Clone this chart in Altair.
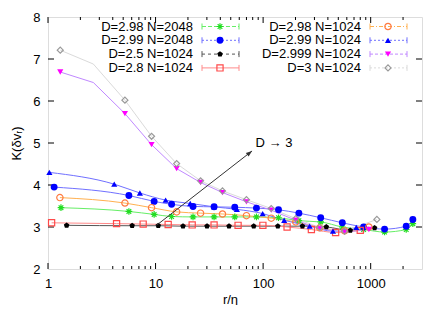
import altair as alt
import pandas as pd
import math

# ---------------- data ----------------
labels = ["D=2.98 N=2048", "D=2.99 N=2048", "D=2.5 N=1024", "D=2.8 N=1024",
          "D=2.98 N=1024", "D=2.99 N=1024", "D=2.999 N=1024", "D=3 N=1024"]

green_x = [1.32, 5.65, 9.7, 14.1, 22.3, 35, 54.5, 86.7, 139, 215, 343, 545, 860, 1346, 2140, 2466]
green_y = [3.46, 3.37, 3.30, 3.25, 3.24, 3.24, 3.24, 3.24, 3.22, 3.15, 3.12, 3.00, 2.94, 2.88, 2.94, 3.08]

bluec_x = [1.14, 5.65, 9.7, 14.1, 22.3, 35, 54.5, 86.7, 139, 215, 343, 545, 860, 1346, 2140, 2466]
bluec_y = [3.95, 3.75, 3.61, 3.54, 3.49, 3.48, 3.47, 3.45, 3.41, 3.33, 3.22, 3.10, 3.00, 2.95, 3.02, 3.18]

black_x = [1.49, 6.06, 10.6, 18.0, 30.1, 48.2, 81.8, 137, 232, 387, 646, 1087]
black_y = [3.04, 3.03, 3.03, 3.02, 3.02, 3.02, 3.02, 3.02, 3.02, 3.00, 2.92, 2.98]

red_x = [1.08, 4.34, 7.67, 13.1, 21.9, 35, 58.5, 99.5, 167, 281, 472, 800]
red_y = [3.10, 3.08, 3.07, 3.06, 3.05, 3.05, 3.04, 3.04, 3.00, 2.94, 2.87, 2.92]

orange_x = [1.29, 5.19, 9.18, 15.7, 26.2, 41.9, 70, 119, 201, 336, 572, 962]
orange_y = [3.70, 3.57, 3.46, 3.36, 3.33, 3.31, 3.27, 3.21, 3.12, 2.98, 2.91, 3.00]

bluet_x = [1.03, 4.13, 7.15, 12.4, 21, 35, 57, 99, 157, 271, 446, 735]
bluet_y = [4.30, 4.02, 3.81, 3.64, 3.56, 3.48, 3.42, 3.32, 3.16, 3.02, 2.90, 2.99]

mag_x = [1.3, 5.19, 9.18, 15.7, 26.2, 41.9, 70, 119, 201, 336, 572, 962]
mag_y = [6.69, 5.70, 4.96, 4.39, 4.06, 3.82, 3.60, 3.40, 3.16, 2.96, 2.88, 2.94]
mag_extra = [(2.64, 6.44)]          # line vertex without a marker

gray_x = [1.3, 5.19, 9.18, 15.7, 26.2, 41.9, 70, 119, 201, 336, 572, 1142]
gray_y = [7.21, 6.02, 5.16, 4.51, 4.10, 3.86, 3.65, 3.44, 3.20, 2.99, 2.90, 3.18]
gray_extra = [(2.64, 6.88)]

x_major = [1, 10, 100, 1000]
x_minor = [2, 3, 4, 5, 6, 7, 8, 9, 20, 30, 40, 50, 60, 70, 80, 90,
           200, 300, 400, 500, 600, 700, 800, 900, 2000]
y_ticks = [3, 4, 5, 6, 7]
y_labels = [2, 3, 4, 5, 6, 7, 8]

arrow_from = (10.2, 3.04)
arrow_to = (78.9, 4.81)
arrow_text = "D \u2192 3"
arrow_text_pos = (85, 4.99)

# ---------------- styling ----------------
W, H = 374, 252
FONT = "Liberation Sans"
XMIN, XMAX, YMIN, YMAX = 1, 3000, 2, 8

asterisk = "M-1,0L1,0M0,-1L0,1M-0.7,-0.7L0.7,0.7M-0.7,0.7L0.7,-0.7"
pentagon = "M0,-1L0.951,-0.309L0.588,0.809L-0.588,0.809L-0.951,-0.309Z"
arrowhead = "M0,0L-0.38,1L0.38,1Z"

series = [
    # label, xs, ys, extra, marker color, line color, shape, filled, size, dash, interp
    (labels[0], green_x, green_y, [], "#22dd22", "#66ee66", asterisk, False, 44, [4, 2], "monotone"),
    (labels[1], bluec_x, bluec_y, [], "#0000ff", "#7070ff", "circle", True, 48, [2, 2], "monotone"),
    (labels[2], black_x, black_y, [], "#000000", "#555555", pentagon, True, 34, [3, 3], "monotone"),
    (labels[3], red_x, red_y, [], "#ff4a4a", "#ff8a8a", "square", False, 38, [1, 0], "monotone"),
    (labels[4], orange_x, orange_y, [], "#ff7a40", "#ffb050", "circle", False, 40, [4, 2, 1, 2], "monotone"),
    (labels[5], bluet_x, bluet_y, [], "#0000ff", "#7070ff", "triangle-up", True, 38, [2, 2], "monotone"),
    (labels[6], mag_x, mag_y, mag_extra, "#ff00ff", "#c088ff", "triangle-down", True, 38, [3, 2], "linear"),
    (labels[7], gray_x, gray_y, gray_extra, "#9a9a9a", "#dadada", "diamond", False, 36, [2, 2], "linear"),
]

xscale = alt.Scale(type="log", domain=[XMIN, XMAX], nice=False)
yscale = alt.Scale(domain=[YMIN, YMAX], nice=False, zero=False)

xaxis = alt.Axis(values=x_major, format="d", ticks=False, domain=False, grid=False,
                 labelFont=FONT, labelFontSize=13, labelColor="black", labelPadding=8,
                 labelFlush=False, title="r/\u03b7", titleFont=FONT, titleFontSize=13,
                 titleFontWeight="normal", titleColor="black", titleX=W / 2 - 5, titleY=30,
                 titleBaseline="middle", titleAlign="center")
yaxis = alt.Axis(values=y_labels, format="d", ticks=False, domain=False, grid=False,
                 labelFont=FONT, labelFontSize=13, labelColor="black", labelPadding=8,
                 labelFlush=False, title="K(\u03b4v\u1d63)", titleFont=FONT, titleFontSize=13,
                 titleFontWeight="normal", titleColor="black", titleX=-32, titleY=H / 2,
                 titleAngle=270, titleBaseline="middle", titleAlign="center")

X = lambda: alt.X("x:Q", scale=xscale, axis=xaxis)
Y = lambda: alt.Y("y:Q", scale=yscale, axis=yaxis)

layers = []

# base invisible layer to carry the axes
base_df = pd.DataFrame({"x": [XMIN, XMAX], "y": [YMIN, YMAX]})
layers.append(alt.Chart(base_df).mark_point(opacity=0).encode(x=X(), y=Y()))

# inside ticks
tx_major = pd.DataFrame({"x": x_major})
tx_minor = pd.DataFrame({"x": x_minor})
ty = pd.DataFrame({"y": y_ticks})
for df, ln in ((tx_major, 6), (tx_minor, 3)):
    layers.append(alt.Chart(df).mark_rule(color="black", strokeWidth=1).encode(
        x=alt.X("x:Q", scale=xscale), y=alt.value(H), y2=alt.value(H - ln)))
    layers.append(alt.Chart(df).mark_rule(color="black", strokeWidth=1).encode(
        x=alt.X("x:Q", scale=xscale), y=alt.value(0), y2=alt.value(ln)))
layers.append(alt.Chart(ty).mark_rule(color="black", strokeWidth=1).encode(
    y=alt.Y("y:Q", scale=yscale), x=alt.value(0), x2=alt.value(6)))
layers.append(alt.Chart(ty).mark_rule(color="black", strokeWidth=1).encode(
    y=alt.Y("y:Q", scale=yscale), x=alt.value(W), x2=alt.value(W - 6)))

# series lines
for (lab, xs, ys, extra, mc, lc, shape, filled, size, dash, interp) in series:
    pts = pd.DataFrame({"x": xs, "y": ys})
    line_df = pd.concat([pts, pd.DataFrame(extra, columns=["x", "y"])]).sort_values("x")
    line_df = line_df.reset_index(drop=True).astype(float)
    layers.append(alt.Chart(line_df).mark_line(stroke=lc, color=lc, strokeWidth=1,
                                               interpolate=interp, clip=True).encode(
        x=X(), y=Y()))
# series markers
for (lab, xs, ys, extra, mc, lc, shape, filled, size, dash, interp) in series:
    pts = pd.DataFrame({"x": xs, "y": ys})
    if filled:
        m = alt.Chart(pts).mark_point(shape=shape, filled=True, fill=mc, size=size,
                                      opacity=1, strokeWidth=0)
    else:
        m = alt.Chart(pts).mark_point(shape=shape, filled=False, stroke=mc, size=size,
                                      opacity=1, strokeWidth=1.2, fill=None)
    layers.append(m.encode(x=X(), y=Y()))

# arrow
arr_df = pd.DataFrame({"x": [arrow_from[0]], "y": [arrow_from[1]],
                       "x2": [arrow_to[0]], "y2": [arrow_to[1]]})
layers.append(alt.Chart(arr_df).mark_rule(color="#333333", strokeWidth=1).encode(
    x=alt.X("x:Q", scale=xscale), y=alt.Y("y:Q", scale=yscale), x2="x2:Q", y2="y2:Q"))
# arrowhead direction from scale geometry
def px(v):
    return (math.log10(v) - math.log10(XMIN)) / (math.log10(XMAX) - math.log10(XMIN)) * W
def py(v):
    return H - (v - YMIN) / (YMAX - YMIN) * H
dx = px(arrow_to[0]) - px(arrow_from[0])
dy = py(arrow_to[1]) - py(arrow_from[1])
ang = math.degrees(math.atan2(dx, -dy)) % 360
head_df = pd.DataFrame({"x": [arrow_to[0]], "y": [arrow_to[1]]})
layers.append(alt.Chart(head_df).mark_point(shape=arrowhead, filled=True, fill="#333333",
                                            size=150, angle=ang, opacity=1, strokeWidth=0).encode(
    x=alt.X("x:Q", scale=xscale), y=alt.Y("y:Q", scale=yscale)))
txt_df = pd.DataFrame({"x": [arrow_text_pos[0]], "y": [arrow_text_pos[1]], "t": [arrow_text]})
layers.append(alt.Chart(txt_df).mark_text(align="left", baseline="middle", font=FONT,
                                          fontSize=13, color="black").encode(
    x=alt.X("x:Q", scale=xscale), y=alt.Y("y:Q", scale=yscale), text="t:N"))

# custom legend (text on the left, sample on the right, like gnuplot)
one = pd.DataFrame({"a": [0]})
for i, (lab, xs, ys, extra, mc, lc, shape, filled, size, dash, interp) in enumerate(series):
    col, row = divmod(i, 4)
    ty_ = 9.5 + 13.8 * row
    tx_ = 145 + 168 * col
    s0, s1, sm = 154 + 168 * col, 191 + 168 * col, 172 + 168 * col
    layers.append(alt.Chart(one).mark_text(align="right", baseline="middle", font=FONT,
                                           fontSize=13, color="black", text=lab).encode(
        x=alt.value(tx_), y=alt.value(ty_)))
    layers.append(alt.Chart(one).mark_rule(color=lc, strokeWidth=1, strokeDash=dash).encode(
        x=alt.value(s0), x2=alt.value(s1), y=alt.value(ty_)))
    for cx in (s0, s1):
        layers.append(alt.Chart(one).mark_rule(color=lc, strokeWidth=1).encode(
            x=alt.value(cx), y=alt.value(ty_ - 3), y2=alt.value(ty_ + 3)))
    if filled:
        m = alt.Chart(one).mark_point(shape=shape, filled=True, fill=mc, size=size,
                                      opacity=1, strokeWidth=0)
    else:
        m = alt.Chart(one).mark_point(shape=shape, filled=False, stroke=mc, size=size,
                                      opacity=1, strokeWidth=1.2, fill=None)
    layers.append(m.encode(x=alt.value(sm), y=alt.value(ty_)))

chart = alt.layer(*layers).properties(
    width=W, height=H,
    autosize=alt.AutoSizeParams(type="none"),
    padding={"left": 40, "top": 9, "right": 17, "bottom": 36},
).configure_view(stroke="black", strokeWidth=1).configure(background="white")

chart.save("out.html", embed_options={"renderer": "svg", "actions": False})
